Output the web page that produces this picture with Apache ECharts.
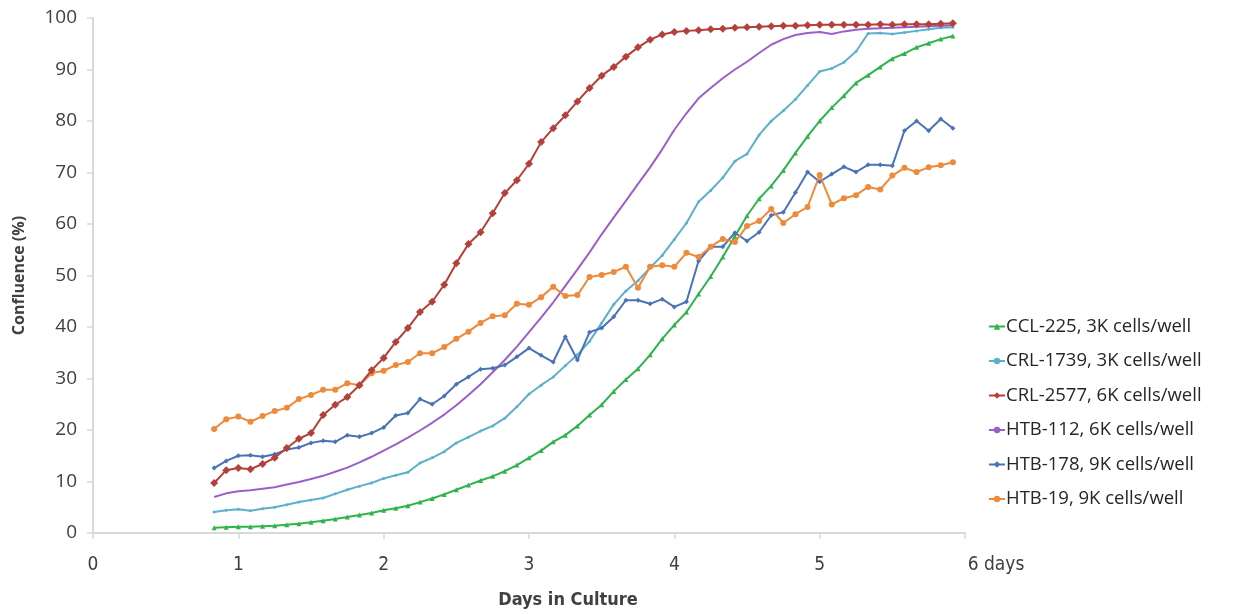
<!DOCTYPE html>
<html>
<head>
<meta charset="utf-8">
<script src="https://cdn.jsdelivr.net/npm/echarts@6/dist/echarts.min.js"></script>
<style>
  html, body { margin: 0; padding: 0; background: #fff; }
  #chart { width: 1237px; height: 614px; }
</style>
</head>
<body>
<div id="chart"></div>
<script>
// Imaging time points, in hours after seeding
const hours = [20,22,24,26,28,30,32,34,36,38,40,42,44,46,48,50,52,54,56,58,
  60,62,64,66,68,70,72,74,76,78,80,82,84,86,88,90,92,94,96,98,
  100,102,104,106,108,110,112,114,116,118,120,122,124,126,128,130,132,134,136,138,
  140,142];

const seriesNames = ['CCL-225, 3K cells/well', 'CRL-1739, 3K cells/well', 'CRL-2577, 6K cells/well',
  'HTB-112, 6K cells/well', 'HTB-178, 9K cells/well', 'HTB-19, 9K cells/well'];

// Confluence (%) per time point
const ccl225 = [1.0,1.1,1.2,1.2,1.3,1.4,1.6,1.8,2.1,2.4,2.7,3.1,3.5,3.9,4.4,4.8,5.3,6.0,6.7,7.5,
  8.4,9.3,10.2,11.0,12.0,13.2,14.6,16.0,17.7,19.0,20.8,22.9,24.9,27.5,29.8,31.9,34.6,37.7,40.4,42.9,
  46.4,49.8,53.6,57.6,61.6,64.9,67.4,70.4,73.8,77.0,80.0,82.6,84.9,87.4,88.9,90.5,92.1,93.1,94.3,95.1,
  95.9,96.5];
const crl1739 = [4.1,4.4,4.6,4.3,4.7,5.0,5.5,6.0,6.4,6.8,7.6,8.4,9.1,9.7,10.6,11.2,11.8,13.6,14.6,15.8,
  17.5,18.6,19.8,20.8,22.3,24.5,27.0,28.7,30.3,32.5,34.6,37.2,40.8,44.4,47.0,49.0,51.5,53.9,57.0,60.2,
  64.3,66.5,69.0,72.2,73.6,77.3,80.0,82.0,84.2,86.9,89.6,90.2,91.4,93.5,97.0,97.1,96.9,97.2,97.5,97.8,
  98.1,98.2];
const crl2577 = [9.7,12.2,12.6,12.4,13.4,14.6,16.5,18.3,19.4,22.9,24.9,26.4,28.7,31.6,34.0,37.1,39.8,42.9,44.9,48.2,
  52.4,56.1,58.4,62.1,66.0,68.5,71.7,75.9,78.6,81.1,83.8,86.4,88.8,90.5,92.5,94.3,95.8,96.8,97.3,97.5,
  97.6,97.8,97.9,98.1,98.2,98.3,98.4,98.5,98.5,98.6,98.7,98.7,98.7,98.7,98.7,98.8,98.7,98.8,98.8,98.8,
  98.9,99.0];
const htb112 = [7.0,7.7,8.1,8.3,8.6,8.9,9.4,9.9,10.5,11.1,11.9,12.7,13.7,14.8,16.0,17.2,18.5,19.9,21.4,23.0,
  24.8,26.8,28.9,31.2,33.6,36.2,39.0,41.8,44.8,48.0,51.2,54.5,58.0,61.3,64.5,67.8,71.0,74.5,78.3,81.5,
  84.4,86.4,88.3,90.0,91.5,93.2,94.8,95.9,96.7,97.1,97.3,96.9,97.4,97.7,97.9,98.0,98.1,98.2,98.3,98.4,
  98.5,98.6];
const htb178 = [12.6,14.0,15.0,15.1,14.8,15.3,16.2,16.6,17.5,17.9,17.7,19.0,18.7,19.4,20.5,22.8,23.3,26.0,25.0,26.6,
  28.9,30.3,31.8,32.0,32.6,34.2,35.9,34.5,33.2,38.1,33.6,39.0,39.8,42.0,45.2,45.2,44.5,45.4,43.9,44.9,
  52.8,55.6,55.6,58.3,56.7,58.4,61.7,62.3,66.1,70.1,68.2,69.7,71.1,70.1,71.5,71.5,71.3,78.1,80.0,78.1,
  80.4,78.6];
const htb19 = [20.2,22.1,22.6,21.6,22.7,23.7,24.3,26.0,26.8,27.8,27.8,29.1,28.7,31.0,31.5,32.6,33.2,34.9,34.9,36.1,
  37.7,39.1,40.8,42.1,42.3,44.5,44.3,45.8,47.8,46.0,46.2,49.7,50.1,50.7,51.7,47.6,51.7,52.0,51.7,54.4,
  53.6,55.6,57.1,56.5,59.6,60.6,62.9,60.2,61.9,63.3,69.5,63.8,65.0,65.6,67.2,66.7,69.4,70.9,70.1,71.0,
  71.4,72.0];

const yTicks = [0,10,20,30,40,50,60,70,80,90,100];
const xTicks = [0,1,2,3,4,5,6];

const values = [ccl225, crl1739, crl2577, htb112, htb178, htb19];
const colors = ['#2fb34c', '#5cb0cc', '#b3403a', '#9a5fc9', '#4a72b8', '#ee8a3a'];
const symbols = ['triangle', 'circle', 'diamond', 'none', 'diamond', 'circle'];
const symbolSizes = [5, 3, 8, 0, 5, 6];

const toPairs = arr => arr.map((v, i) => [hours[i] / 24, v]);

const chart = echarts.init(document.getElementById('chart'));
const axisGrey = '#d9d9d9';
const textGrey = '#404040';
const narrow = "'Liberation Sans Narrow', 'DejaVu Sans Condensed', 'Open Sans', sans-serif";
const sans = "'Open Sans', 'Liberation Sans', sans-serif";

chart.setOption({
  animation: false,
  backgroundColor: '#ffffff',
  grid: { left: 93, right: 272, top: 18, bottom: 81, outerBoundsMode: 'none' },
  xAxis: {
    type: 'value',
    min: 0, max: 6, interval: 1,
    splitLine: { show: false },
    axisLine: { show: true, lineStyle: { color: axisGrey, width: 2 } },
    axisTick: { show: true, length: 6, lineStyle: { color: axisGrey, width: 1.5 } },
    axisLabel: {
      margin: 23,
      color: textGrey,
      fontSize: 19,
      fontFamily: narrow,
      formatter: v => (v === 6 ? '{d|6 days}' : String(xTicks[v])),
      rich: { d: { fontSize: 19, color: textGrey, padding: [0, 0, 0, 62], fontFamily: narrow } }
    },
    name: 'Days in Culture',
    nameLocation: 'middle',
    nameGap: 58,
    nameTextStyle: {
      color: textGrey, fontSize: 18, fontWeight: 'bold',
      fontFamily: narrow,
      padding: [0, 0, 0, 78]
    }
  },
  yAxis: {
    type: 'value',
    min: 0, max: 100, interval: 10,
    splitLine: { show: false },
    axisLine: { show: true, lineStyle: { color: axisGrey, width: 2 } },
    axisTick: { show: true, length: 6, lineStyle: { color: axisGrey, width: 1.5 } },
    axisLabel: {
      margin: 16,
      color: textGrey,
      fontSize: 19,
      fontFamily: sans,
      formatter: v => String(yTicks[v / 10])
    },
    name: 'Confluence (%)',
    nameLocation: 'middle',
    nameGap: 66,
    nameTextStyle: {
      color: textGrey, fontSize: 16, fontWeight: 'bold',
      fontFamily: sans
    }
  },
  legend: {
    orient: 'vertical',
    left: 983,
    top: 309,
    itemGap: 9.5,
    itemWidth: 16,
    itemHeight: 8,
    textStyle: {
      color: '#262626', fontSize: 18.5, padding: [0, 0, 0, -4],
      lineHeight: 25,
      fontFamily: sans
    },
    data: seriesNames
  },
  series: seriesNames.map((name, k) => ({
    name,
    type: 'line',
    data: toPairs(values[k]),
    symbol: symbols[k],
    symbolSize: symbolSizes[k],
    color: colors[k],
    lineStyle: { width: 2, color: colors[k] },
    itemStyle: { color: colors[k] },
    z: k === 2 ? 3 : 2
  }))
});
</script>
</body>
</html>
